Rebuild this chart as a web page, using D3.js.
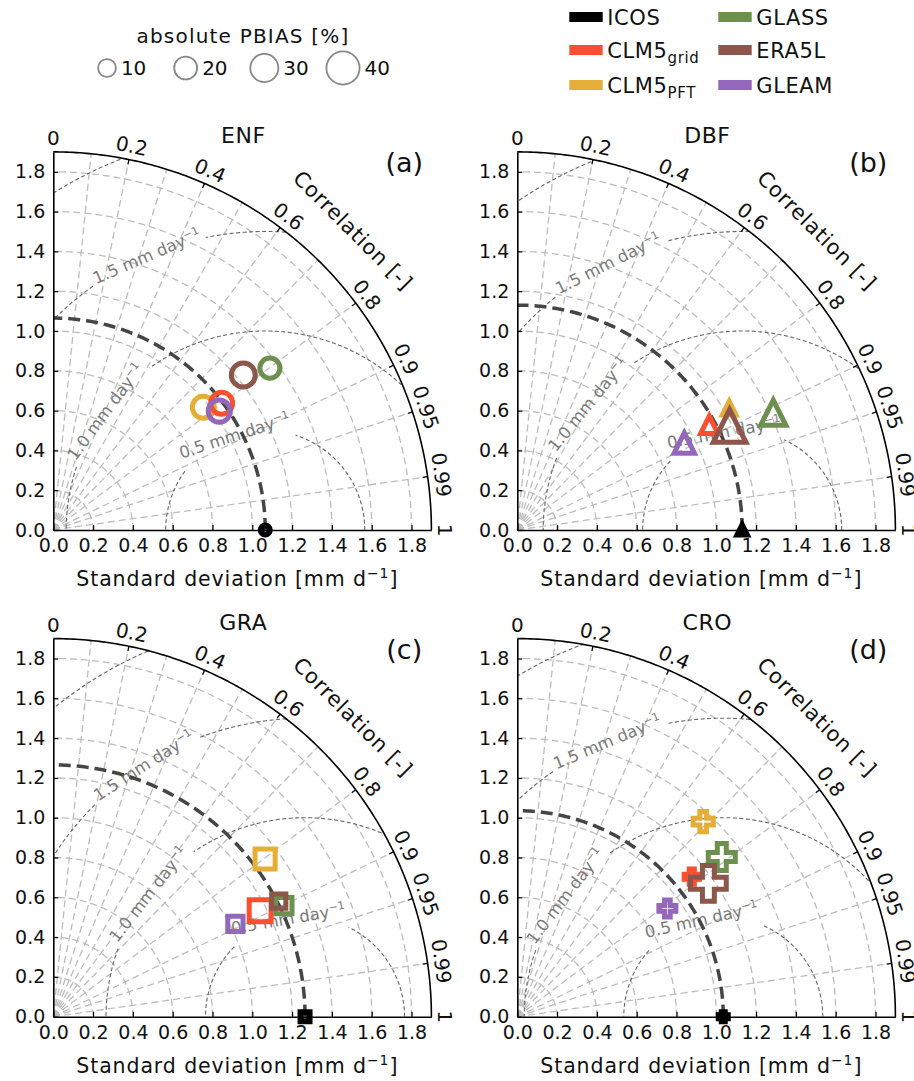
<!DOCTYPE html>
<html><head><meta charset="utf-8">
<script src="https://cdn.jsdelivr.net/npm/d3@7"></script>
<style>body{margin:0;background:#fff} svg{display:block} text{font-family:"DejaVu Sans",sans-serif;fill:#111}</style>
</head><body><svg id="c" width="914" height="1081"></svg>
<script>
// ---------- data ----------
const products = ["ICOS","CLM5grid","CLM5PFT","GLASS","ERA5L","GLEAM"];
const productColors = ["#000000","#fc4f30","#e5ae38","#6d904f","#8c564b","#9467bd"];
const panelTitles = ["ENF","DBF","GRA","CRO"];
const panelLetters = ["(a)","(b)","(c)","(d)"];
const panelShapes = ["circle","triangle","square","plus"];
// standard deviation [mm d-1] (order as products)
const stdENF = [1.065, 1.059, 0.974, 1.359, 1.232, 1.026];
const stdDBF = [1.130, 1.100, 1.228, 1.415, 1.188, 0.946];
const stdGRA = [1.265, 1.168, 1.327, 1.286, 1.273, 1.027];
const stdCRO = [1.035, 1.124, 1.354, 1.304, 1.171, 0.930];
// correlation with ICOS
const corrENF = [1, 0.799, 0.774, 0.801, 0.775, 0.813];
const corrDBF = [1, 0.877, 0.867, 0.909, 0.898, 0.887];
const corrGRA = [1, 0.890, 0.802, 0.901, 0.890, 0.891];
const corrCRO = [1, 0.780, 0.690, 0.788, 0.820, 0.811];
// absolute PBIAS [%]
const pbiasENF = [0, 18, 18, 14.5, 22, 18.5];
const pbiasDBF = [0, 9, 2, 24.5, 39, 15];
const pbiasGRA = [0, 18, 14.5, 7, 3, 5];
const pbiasCRO = [0, 5, 14.5, 28, 45, 8.5];
const pbiasLegend = [10, 20, 30, 40];
const stdTicks = [0, 0.2, 0.4, 0.6, 0.8, 1.0, 1.2, 1.4, 1.6, 1.8];
const stdGrid = [0.2, 0.4, 0.6, 0.8, 1.0, 1.2, 1.4, 1.6, 1.8];
const corrTicks = [0, 0.2, 0.4, 0.6, 0.8, 0.9, 0.95, 0.99, 1];
const corrTickLabels = ["0","0.2","0.4","0.6","0.8","0.9","0.95","0.99","1"];
const corrGrid = [0.1, 0.2, 0.3, 0.4, 0.5, 0.6, 0.7, 0.8, 0.9, 0.95, 0.99];
const rmsdLevels = [0.5, 1.0, 1.5, 2.0];
const rmsdLabels = ["0.5 mm day", "1.0 mm day", "1.5 mm day", null];

// ---------- layout ----------
const stdAll = [stdENF, stdDBF, stdGRA, stdCRO];
const corrAll = [corrENF, corrDBF, corrGRA, corrCRO];
const pbiasAll = [pbiasENF, pbiasDBF, pbiasGRA, pbiasCRO];
const layout = [{ox:53.3,oy:530},{ox:517.3,oy:530},{ox:53.3,oy:1016.7},{ox:517.3,oy:1016.7}];
const labelAngles = [[108,143.5,113.4],[100.6,140.8,116.7],[99.7,142,122.7],[102.7,142.6,112.9]];
const U = 199, MAXR = 1.9;
const drawOrder = [0,2,1,3,4,5];
const sizeScale = d3.scaleLinear().domain([10,40]).range([17.8,33.2]);
const rad = Math.PI/180;

const svg = d3.select("#c");
const line = d3.line();

function shapePath(shape, s){
  const h = s/2;
  if(shape==="circle"){ const p=d3.path(); p.arc(0,0,h,0,2*Math.PI); p.closePath(); return p.toString(); }
  if(shape==="triangle") return line([[0,-h],[h,h],[-h,h]])+"Z";
  if(shape==="square") return line([[-h,-h],[h,-h],[h,h],[-h,h]])+"Z";
  const a = s/6;
  return line([[-a,-3*a],[a,-3*a],[a,-a],[3*a,-a],[3*a,a],[a,a],[a,3*a],[-a,3*a],[-a,a],[-3*a,a],[-3*a,-a],[-a,-a]])+"Z";
}

panelTitles.forEach((title,i)=>{
  const {ox,oy} = layout[i];
  const x = d3.scaleLinear().domain([0,MAXR]).range([ox, ox+MAXR*U]);
  const y = d3.scaleLinear().domain([0,MAXR]).range([oy, oy-MAXR*U]);
  const P = (s,c) => [x(s*c), y(s*Math.sqrt(Math.max(0,1-c*c)))];
  const XY = (a,b) => [x(a), y(b)];
  const g = svg.append("g");
  const ref = stdAll[i][0];

  const clipId = "clip"+i;
  const quarter = d3.range(0,90.5,0.5).map(a=>P(MAXR, Math.cos(a*rad)));
  svg.append("clipPath").attr("id",clipId).append("path")
     .attr("d", line([XY(0,0), ...quarter])+"Z");

  // std gridlines
  g.append("g").selectAll("path").data(stdGrid).join("path")
   .attr("d", v => line(d3.range(0,90.5,0.5).map(a=>P(v, Math.cos(a*rad)))))
   .attr("fill","none").attr("stroke","#bdbdbd").attr("stroke-width",1.3).attr("stroke-dasharray","7,4");
  // correlation gridlines
  g.append("g").selectAll("path").data(corrGrid).join("path")
   .attr("d", c => line([P(0,c), P(MAXR,c)]))
   .attr("fill","none").attr("stroke","#bdbdbd").attr("stroke-width",1.3).attr("stroke-dasharray","7,4");

  // RMSD contours with inline labels
  const cg = g.append("g").attr("clip-path",`url(#${clipId})`);
  const lg = g.append("g");
  rmsdLevels.forEach((r,k)=>{
    let gapC = -999, gapH = 0;
    if(rmsdLabels[k] && labelAngles[i][k]!=null){
      const phi = labelAngles[i][k];
      const [lx,ly] = XY(ref + r*Math.cos(phi*rad), r*Math.sin(phi*rad));
      const t = lg.append("text").attr("transform",`translate(${lx},${ly}) rotate(${-(phi-90)})`)
        .attr("text-anchor","middle").attr("dy","0.35em")
        .style("font-size","16.5px").style("fill","#7a7a7a");
      t.append("tspan").text(rmsdLabels[k]);
      t.append("tspan").attr("dy",-6).style("font-size","11px").text("−1");
      const len = t.node().getComputedTextLength();
      gapC = phi; gapH = (len/2 + 4)/(r*U)/rad;
    }
    const segs = [[]];
    d3.range(0,180.25,0.25).forEach(a=>{
      if(Math.abs(a-gapC) < gapH){ if(segs[segs.length-1].length) segs.push([]); }
      else segs[segs.length-1].push(XY(ref + r*Math.cos(a*rad), r*Math.sin(a*rad)));
    });
    segs.filter(s=>s.length>1).forEach(s=>{
      cg.append("path").attr("d", line(s)).attr("fill","none")
        .attr("stroke","#666").attr("stroke-width",1.1).attr("stroke-dasharray","4,2.5");
    });
  });

  // reference std arc
  g.append("path").attr("d", line(d3.range(0,90.5,0.5).map(a=>P(ref, Math.cos(a*rad)))))
   .attr("fill","none").attr("stroke","#454545").attr("stroke-width",3.5).attr("stroke-dasharray","12,6");

  // outer arc
  g.append("path").attr("d", line(quarter)).attr("fill","none").attr("stroke","#000").attr("stroke-width",1.6);

  // axes
  const ya = d3.axisLeft(y).tickValues(stdTicks).tickFormat(d3.format(".1f")).tickSizeInner(-5).tickSizeOuter(0).tickPadding(8);
  const xa = d3.axisBottom(x).tickValues(stdTicks).tickFormat(d3.format(".1f")).tickSizeInner(-5).tickSizeOuter(0).tickPadding(9);
  [g.append("g").attr("transform",`translate(${ox},0)`).call(ya),
   g.append("g").attr("transform",`translate(0,${oy})`).call(xa)].forEach(ax=>{
     ax.select(".domain").attr("stroke","#000").attr("stroke-width",1.6);
     ax.selectAll(".tick line").attr("stroke","#000").attr("stroke-width",1.2);
     ax.selectAll(".tick text").style("font-size","19px").style("font-family","DejaVu Sans").attr("fill","#111");
  });

  // correlation ticks & labels
  g.append("g").selectAll("path").data(corrTicks.filter(c=>c>0&&c<1)).join("path")
   .attr("d", c => line([P(MAXR-5/U,c), P(MAXR,c)])).attr("stroke","#000").attr("stroke-width",1.2);
  corrTicks.forEach((c,k)=>{
    const [tx,ty] = P(1.97, c);
    const ang = Math.acos(c)/rad;
    g.append("text").attr("transform",`translate(${tx},${ty}) rotate(${90-ang})`)
      .attr("text-anchor","middle").attr("dy","0.35em").style("font-size","20px").text(corrTickLabels[k]);
  });
  {
    const [tx,ty] = P(2.13, Math.cos(45*rad));
    g.append("text").attr("transform",`translate(${tx},${ty}) rotate(45)`)
     .attr("text-anchor","middle").attr("dy","0.35em").style("font-size","21px").style("letter-spacing","0.8px").text("Correlation [-]");
  }

  // markers
  const shape = panelShapes[i];
  drawOrder.forEach(j=>{
    const [mx,my] = P(stdAll[i][j], corrAll[i][j]);
    const s = j===0 ? 9 : sizeScale(pbiasAll[i][j]);
    g.append("path").attr("d", shapePath(shape, s)).attr("transform",`translate(${mx},${my})`)
     .attr("fill","none").attr("stroke",productColors[j]).attr("stroke-width", j===0?6:5)
     .attr("stroke-linejoin","miter").attr("stroke-miterlimit",10);
  });

  // titles
  g.append("text").attr("x",ox+190).attr("y",oy-387).attr("text-anchor","middle").style("font-size","22px").style("letter-spacing","0.5px").text(title);
  g.append("text").attr("x",ox+351).attr("y",oy-358).attr("text-anchor","middle").style("font-size","27px").text(panelLetters[i]);
  const xl = g.append("text").attr("x",ox+184).attr("y",oy+56).attr("text-anchor","middle").style("font-size","20.5px").style("letter-spacing","0.9px");
  xl.append("tspan").text("Standard deviation [mm d");
  xl.append("tspan").attr("dy",-8).style("font-size","14px").text("−1");
  xl.append("tspan").attr("dy",8).text("]");
});

// ---------- size legend ----------
const sl = svg.append("g");
sl.append("text").attr("x",243).attr("y",43).attr("text-anchor","middle").style("font-size","20px").style("letter-spacing","1.2px").text("absolute PBIAS [%]");
const legX = d3.scalePoint().domain(pbiasLegend).range([107,343]);
pbiasLegend.forEach(p=>{
  const cx = legX(p), s = sizeScale(p);
  sl.append("path").attr("d", shapePath("circle", s)).attr("transform",`translate(${cx},68)`)
    .attr("fill","none").attr("stroke","#888").attr("stroke-width",1.8);
  sl.append("text").attr("x", cx + s/2 + 5).attr("y",75).style("font-size","20px").text(p);
});

// ---------- colour legend ----------
const cl = svg.append("g");
const rowY = [17, 50, 85];
products.forEach((name,j)=>{
  const col = Math.floor(j/3), row = j%3;
  const lx = col===0 ? 569.3 : 718.3;
  cl.append("rect").attr("x",lx).attr("y",rowY[row]-5).attr("width",33.4).attr("height",10).attr("fill",productColors[j]);
  const t = cl.append("text").attr("x",lx+38).attr("y",rowY[row]+8).style("font-size","21px").style("letter-spacing","0.6px");
  if(name.startsWith("CLM5")){
    t.append("tspan").text("CLM5");
    t.append("tspan").attr("dy",5).style("font-size","15px").text(name.slice(4));
  } else t.text(name);
});
</script></body></html>
